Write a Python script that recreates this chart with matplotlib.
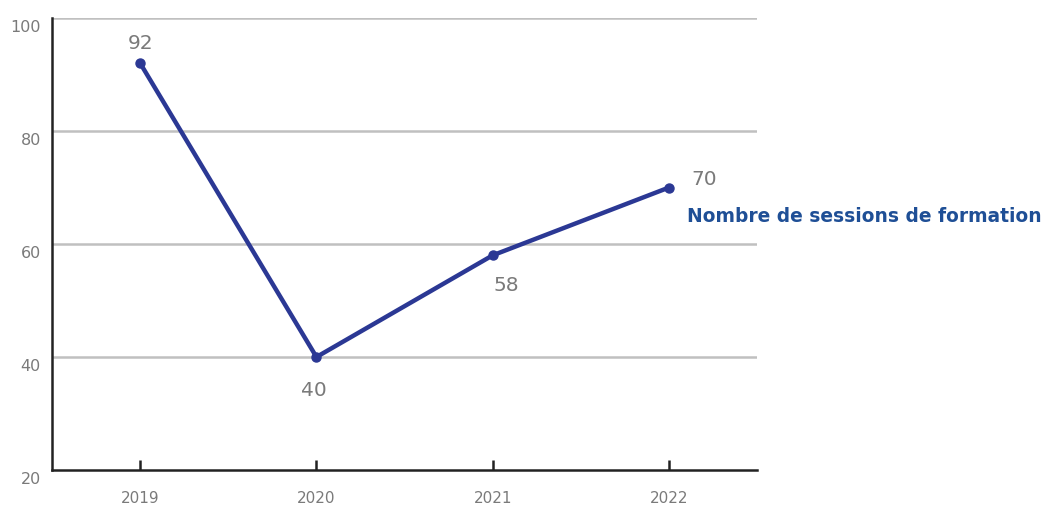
import matplotlib
matplotlib.use('Agg')
import matplotlib.transforms as mtransforms
from matplotlib import pyplot as plt

years = ['2019', '2020', '2021', '2022']
sessions = [92, 40, 58, 70]
series_name = 'Nombre de sessions de formation'
y_ticks = [20, 40, 60, 80, 100]

line_color = '#2b3894'
label_grey = '#7a7a7a'

fig = plt.figure(figsize=(10.43, 5.09), dpi=100)
ax = fig.add_axes([0.0499, 0.0766, 0.676, 0.888])

x = list(range(len(years)))
ax.plot(x, sessions, color=line_color, lw=3.2, marker='o', ms=6.5,
        solid_capstyle='round', zorder=3)

ax.set_xlim(-0.5, 3.5)
ax.set_ylim(20, 100)
ax.set_xticks(x)
ax.set_xticklabels(years, color=label_grey, fontsize=11)
ax.set_yticks(y_ticks)
ax.set_yticklabels([str(v) for v in y_ticks], color=label_grey, fontsize=11.5)

# grid lines
for v in y_ticks[1:]:
    ax.axhline(v, color='#c0c0c0', lw=1.8, zorder=1)

for s in ['top', 'right']:
    ax.spines[s].set_visible(False)
ax.spines['left'].set_linewidth(1.8)
ax.spines['bottom'].set_linewidth(1.8)
ax.spines['left'].set_color('#222222')
ax.spines['bottom'].set_color('#222222')

ax.tick_params(axis='x', direction='in', length=7.5, width=1.8, color='#222222', pad=15)
ax.tick_params(axis='y', length=0, pad=8)

# y labels sit a bit below their gridline
offset = mtransforms.ScaledTranslation(0, -6 / 72, fig.dpi_scale_trans)
for lbl in ax.get_yticklabels():
    lbl.set_transform(lbl.get_transform() + offset)

# value labels
label_offsets = [(0, 14), (-2, -24), (10, -22), (25, 6)]
for i, (v, off) in enumerate(zip(sessions, label_offsets)):
    ax.annotate(str(v), (i, v), xytext=off, textcoords='offset points',
                ha='center', va='center', color=label_grey, fontsize=14.5)

ax.annotate(series_name, (3, sessions[3]), xytext=(13, -21), textcoords='offset points',
            ha='left', va='center', color='#1f4f96', fontsize=13.4, fontweight='bold',
            annotation_clip=False)

fig.savefig('out.png', dpi=100)
